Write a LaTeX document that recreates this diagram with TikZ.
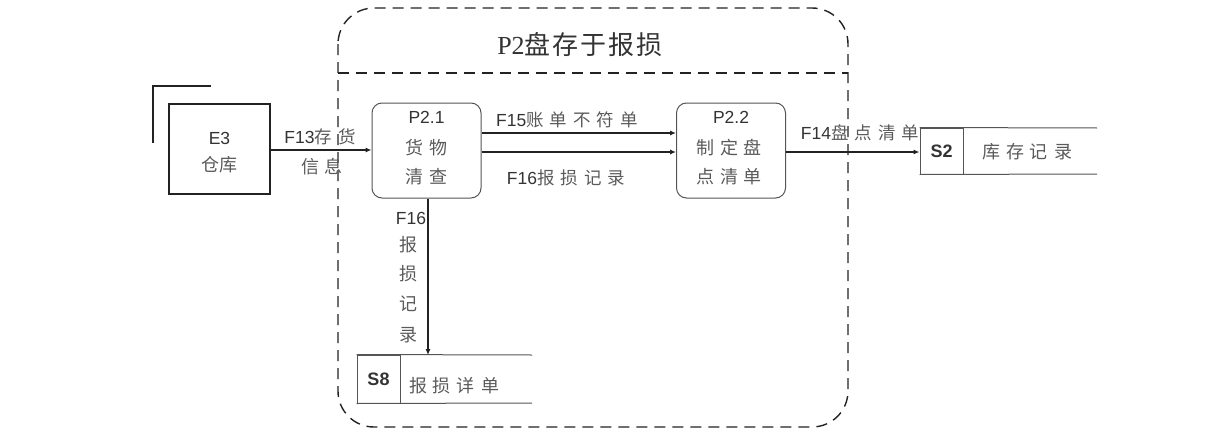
\documentclass[tikz,border=0pt]{standalone}
\usepackage{fontspec}
\setmainfont{Liberation Sans}
\newfontfamily\cjk{Noto Sans CJK SC}
\newfontfamily\ttl{Liberation Serif}
\usetikzlibrary{arrows.meta}
\definecolor{ln}{HTML}{222222}
\definecolor{txt}{HTML}{333333}
\definecolor{ctxt}{HTML}{5A5A5A}
\definecolor{bx}{HTML}{555555}
\newcommand\gp{\hspace{6pt}}
\begin{document}
\begin{tikzpicture}[x=1pt,y=-1pt,
  every node/.style={inner sep=0pt, font=\fontsize{17.5}{20}\selectfont, text=txt},
  cj/.style={font=\cjk\fontsize{18}{20}\selectfont, text=ctxt},
  flow/.style={draw=ln, line width=1.1pt, -{Latex[length=6pt,width=5pt]}},
  proc/.style={draw=bx, line width=1pt, rounded corners=10pt, minimum width=109pt, minimum height=95pt},
  ent/.style={draw=ln, line width=1.6pt, minimum width=101pt, minimum height=90pt},
  cell/.style={draw=bx, line width=1pt, minimum width=43pt, font=\bfseries\fontsize{18}{20}\selectfont},
  bound/.style={draw=ln, line width=1.4pt, dash pattern=on 11pt off 7pt}
]
\useasboundingbox (0,0) rectangle (1224,447);

% outer boundary
\draw[bound, rounded corners=36pt] (338,8) rectangle (848,427);
\draw[bound] (338,73) -- (848,73);
\node (title) at (580,45) {\fontsize{26}{28}\selectfont\ttl P2\cjk 盘\hspace{2pt}存\hspace{2pt}于\hspace{2pt}报\hspace{2pt}损};

% E3 entity
\node[ent] (e3) at (219.5,149) {};
\draw[ln, line width=1.4pt] (153,143) -- (153,86) -- (211,86);
\node (e3a) at (219.5,138) {E3};
\node[cj] (e3b) at (219.5,165) {仓库};

% processes
\node[proc] (p21) at (426.5,150.5) {};
\node (p21a) at (426.5,117) {P2.1};
\node[cj] (p21b) at (426.5,148) {货\gp 物};
\node[cj] (p21c) at (426.5,177) {清\gp 查};

\node[proc] (p22) at (731,150.5) {};
\node (p22a) at (731,117) {P2.2};
\node[cj] (p22b) at (729,148) {制\gp 定\gp 盘};
\node[cj] (p22c) at (729,177) {点\gp 清\gp 单};

% S2 store
\node[cell, minimum height=46pt] (s2) at (941.5,151) {S2};
\draw[bx, line width=1pt] (s2.north west) -- (1097,128);
\draw[bx, line width=1pt] (s2.south west) -- (1097,174);
\node[cj] (s2t) at (1027,152) {库\gp 存\gp 记\gp 录};

% S8 store
\node[cell, minimum height=48pt] (s8) at (378.5,379) {S8};
\draw[bx, line width=1pt] (s8.north west) -- (532,355);
\draw[bx, line width=1pt] (s8.south west) -- (532,403);
\node[cj] (s8t) at (454,386) {报\gp 损\gp 详\gp 单};
\coordinate (s8top) at (428,355);

% flows
\draw[flow] (e3.east |- 0,150) -- (p21.west |- 0,150);
\node (f13a) at (320,137) {F13\cjk\color{ctxt}存\gp 货};
\node[cj] (f13b) at (322,167) {信\gp 息};

\draw[flow] (p21.east |- 0,133) -- (p22.west |- 0,133);
\node (f15) at (567,120) {F15\cjk\color{ctxt}账\gp 单\gp 不\gp 符\gp 单};

\draw[flow] (p21.east |- 0,152) -- (p22.west |- 0,152);
\node (f16) at (566,178) {F16\cjk\color{ctxt}报\gp 损\gp 记\gp 录};

\draw[flow] (p22.east |- 0,152) -- (s2.west |- 0,152);
\node (f14) at (860,133) {F14\cjk\color{ctxt}盘\gp 点\gp 清\gp 单};

\draw[flow] (p21.south -| s8top) -- (s8top);
\node (f16v) at (411,218) {F16};
\node[cj] (v1) at (408,245) {报};
\node[cj] (v2) at (408,274) {损};
\node[cj] (v3) at (408,304) {记};
\node[cj] (v4) at (408,335) {录};
\end{tikzpicture}
\end{document}
